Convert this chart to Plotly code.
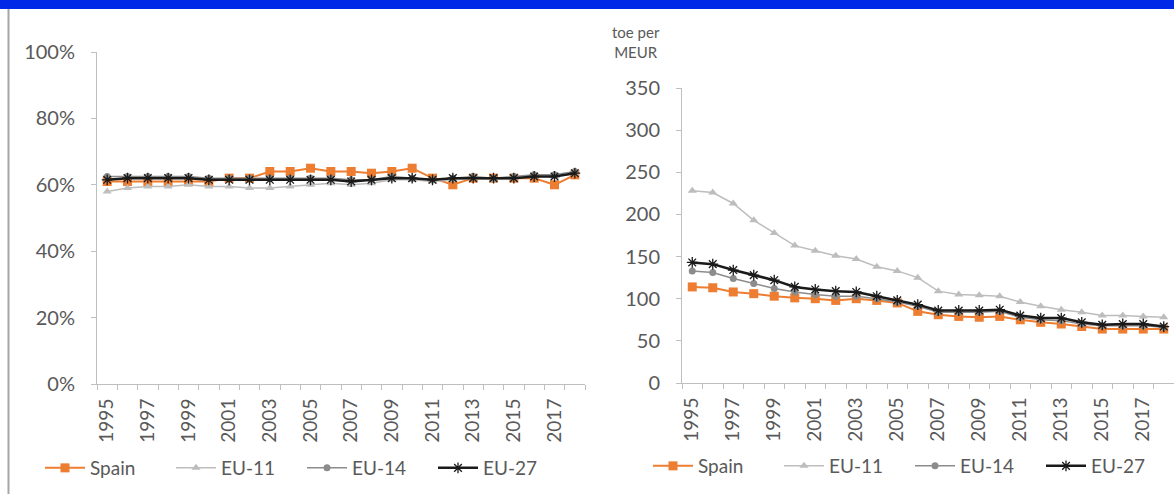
import plotly.graph_objects as go

years = list(range(1995, 2019))
tick_years = list(range(1995, 2019, 2))

# Left chart: share (fraction)
share_spain = [0.61, 0.61, 0.61, 0.61, 0.61, 0.61, 0.62, 0.62, 0.64, 0.64, 0.65, 0.64,
               0.64, 0.635, 0.64, 0.65, 0.62, 0.60, 0.62, 0.62, 0.62, 0.62, 0.60, 0.63]
share_eu11 = [0.58, 0.59, 0.595, 0.595, 0.60, 0.595, 0.595, 0.59, 0.59, 0.595, 0.60, 0.605,
              0.60, 0.605, 0.615, 0.615, 0.61, 0.615, 0.62, 0.615, 0.62, 0.625, 0.625, 0.635]
share_eu14 = [0.625, 0.625, 0.625, 0.625, 0.625, 0.62, 0.62, 0.62, 0.62, 0.62, 0.62, 0.62,
              0.615, 0.615, 0.625, 0.62, 0.615, 0.62, 0.625, 0.62, 0.625, 0.63, 0.63, 0.64]
share_eu27 = [0.615, 0.62, 0.62, 0.62, 0.62, 0.615, 0.615, 0.615, 0.615, 0.615, 0.615, 0.615,
              0.61, 0.615, 0.62, 0.62, 0.615, 0.62, 0.62, 0.62, 0.62, 0.625, 0.625, 0.635]

# Right chart: toe per MEUR
int_spain = [114, 113, 108, 106, 103, 101, 100, 98, 100, 98, 95, 85,
             81, 79, 78, 79, 75, 72, 70, 67, 64, 64, 64, 64]
int_eu11 = [228, 226, 213, 193, 178, 163, 157, 151, 147, 138, 133, 125,
            109, 105, 104, 103, 96, 91, 87, 84, 80, 80, 79, 78]
int_eu14 = [133, 131, 124, 118, 112, 108, 105, 103, 103, 100, 96, 91,
            84, 84, 84, 85, 78, 75, 74, 70, 68, 68, 68, 66]
int_eu27 = [143, 141, 134, 128, 122, 114, 111, 109, 108, 103, 98, 93,
            86, 86, 86, 87, 80, 77, 77, 72, 69, 70, 70, 67]

series_names = ["Spain", "EU-11", "EU-14", "EU-27"]
colors = ["#ED7D31", "#BDBDBD", "#8C8C8C", "#1A1A1A"]
symbols = ["square", "triangle-up", "circle", "asterisk-open"]
msizes = [9, 8, 7, 9]
lwidths = [2, 1.5, 1.5, 2.5]

FONT = "Lato"
TXT = "#595959"
AX = "#BFBFBF"

fig = go.Figure()

left_data = [share_spain, share_eu11, share_eu14, share_eu27]
right_data = [int_spain, int_eu11, int_eu14, int_eu27]

for i, name in enumerate(series_names):
    mk = dict(symbol=symbols[i], size=msizes[i], color=colors[i])
    if symbols[i] == "asterisk-open":
        mk["line"] = dict(color=colors[i], width=1.3)
    fig.add_trace(go.Scatter(x=years, y=left_data[i], name=name, mode="lines+markers",
                             line=dict(color=colors[i], width=lwidths[i]), marker=mk,
                             xaxis="x", yaxis="y", legend="legend"))
for i, name in enumerate(series_names):
    mk = dict(symbol=symbols[i], size=msizes[i], color=colors[i])
    if symbols[i] == "asterisk-open":
        mk["line"] = dict(color=colors[i], width=1.3)
    fig.add_trace(go.Scatter(x=years, y=right_data[i], name=name, mode="lines+markers",
                             line=dict(color=colors[i], width=lwidths[i]), marker=mk,
                             xaxis="x2", yaxis="y2", legend="legend2"))

W, H = 1174, 494

def px_x(p):
    return p / W

def px_y(p):
    return 1 - p / H

xcommon = dict(
    showgrid=False, zeroline=False, showline=True, linecolor=AX, linewidth=1,
    tickvals=tick_years, ticktext=[str(y) for y in tick_years], ticks="",
    tickangle=-90, tickfont=dict(family=FONT, size=19, color=TXT), automargin=False,
    ticklabelstandoff=6,
    minor=dict(ticks="outside", tick0=1994.5, dtick=1, ticklen=5, tickcolor=AX, showgrid=False),
)
ycommon = dict(
    showgrid=False, zeroline=False, showline=True, linecolor=AX, linewidth=1,
    ticks="outside", ticklen=5, tickcolor=AX, automargin=False,
    tickfont=dict(family=FONT, size=20, color=TXT), ticklabelstandoff=12,
)

fig.update_layout(
    width=W, height=H, autosize=False,
    margin=dict(l=0, r=0, t=0, b=0, pad=0),
    paper_bgcolor="white", plot_bgcolor="white",
    font=dict(family=FONT, color=TXT),
    xaxis=dict(domain=[px_x(97), px_x(585)], range=[1994.5, 2018.5], anchor="y", **xcommon),
    yaxis=dict(domain=[px_y(384), px_y(52)], range=[0, 1.0], tickvals=[0, 0.2, 0.4, 0.6, 0.8, 1.0],
               tickformat=".0%", anchor="x", **ycommon),
    xaxis2=dict(domain=[px_x(682), 1.0], range=[1994.5, 2018.5], anchor="y2", **xcommon),
    yaxis2=dict(domain=[px_y(383), px_y(88)], range=[0, 350], tickvals=[0, 50, 100, 150, 200, 250, 300, 350],
                anchor="x2", **ycommon),
    legend=dict(orientation="h", x=px_x(302), xanchor="center", y=px_y(468), yanchor="middle",
                font=dict(family=FONT, size=19, color=TXT), bgcolor="rgba(0,0,0,0)",
                entrywidth=76, itemwidth=40),
    legend2=dict(orientation="h", x=px_x(910), xanchor="center", y=px_y(466), yanchor="middle",
                 font=dict(family=FONT, size=19, color=TXT), bgcolor="rgba(0,0,0,0)",
                 entrywidth=76, itemwidth=40),
    showlegend=True,
)

fig.add_annotation(text="toe per<br>MEUR", xref="paper", yref="paper", x=px_x(636), y=px_y(42),
                   xanchor="center", yanchor="middle", showarrow=False, align="center",
                   font=dict(family=FONT, size=15, color=TXT))

# Top blue band and left border line
fig.add_shape(type="rect", xref="paper", yref="paper", x0=0, x1=1, y0=px_y(9), y1=1,
              fillcolor="#0028E6", line=dict(width=0), layer="above")
fig.add_shape(type="line", xref="paper", yref="paper", x0=px_x(8.5), x1=px_x(8.5), y0=0, y1=px_y(9),
              line=dict(color="#A6A6A6", width=2))

fig.write_html("out.html", config={"displayModeBar": False},
               post_script="document.body.style.margin='0';document.body.style.overflow='hidden';")
